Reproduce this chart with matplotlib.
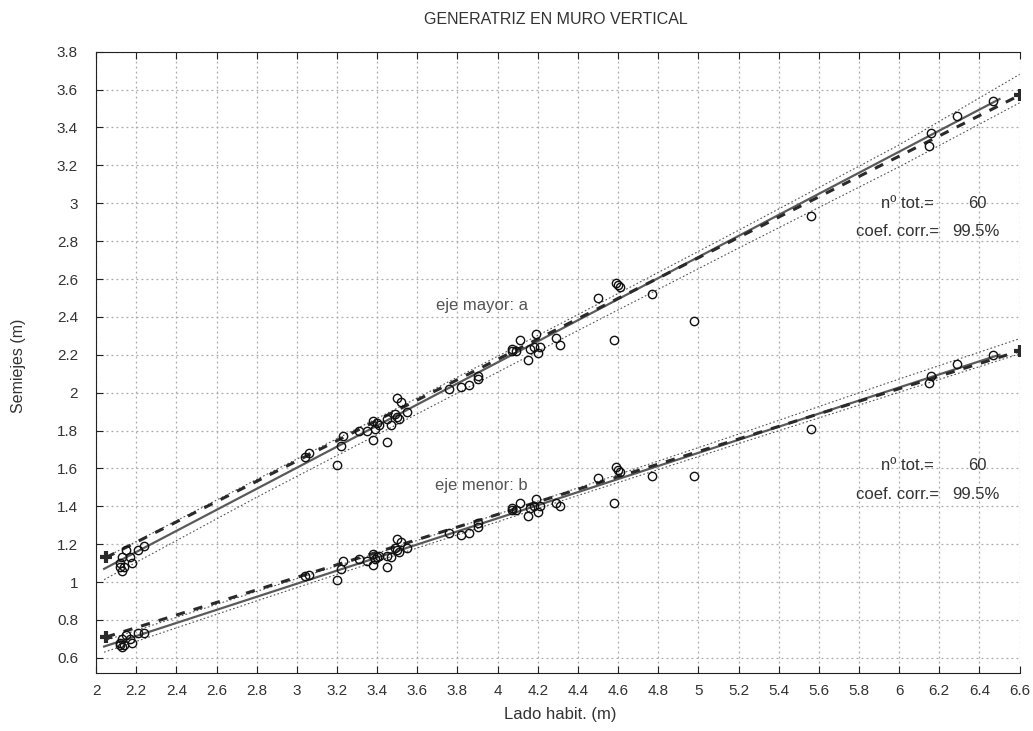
import matplotlib
matplotlib.use('Agg')
import matplotlib.pyplot as plt

# habitation side length (m) and the two semi-axes of the generatrix (m)
lado = [2.12, 2.13, 2.12, 2.14, 2.15, 2.13, 2.17, 2.18, 2.21, 2.24,
        3.04, 3.06, 3.20, 3.22, 3.23, 3.31, 3.38, 3.39, 3.41, 3.38,
        3.45, 3.45, 3.47, 3.50, 3.52, 3.50, 3.51, 3.55, 3.49, 3.40,
        3.76, 3.82, 3.86, 3.90, 3.90, 4.07, 4.07, 4.11, 4.15, 4.16,
        4.18, 4.19, 4.20, 4.21, 4.29, 4.31, 4.50, 4.58, 4.59, 4.60,
        4.61, 4.77, 4.98, 5.56, 6.15, 6.16, 6.29, 6.47, 4.09, 3.35]
eje_a = [1.08, 1.06, 1.10, 1.08, 1.17, 1.13, 1.13, 1.10, 1.17, 1.19,
         1.66, 1.68, 1.62, 1.72, 1.77, 1.80, 1.85, 1.81, 1.83, 1.75,
         1.74, 1.86, 1.83, 1.97, 1.95, 1.87, 1.86, 1.90, 1.89, 1.84,
         2.02, 2.03, 2.04, 2.09, 2.07, 2.23, 2.22, 2.28, 2.17, 2.23,
         2.24, 2.31, 2.21, 2.24, 2.29, 2.25, 2.50, 2.28, 2.58, 2.57,
         2.56, 2.52, 2.38, 2.93, 3.30, 3.37, 3.46, 3.54, 2.22, 1.80]
eje_b = [0.67, 0.66, 0.68, 0.67, 0.72, 0.70, 0.70, 0.68, 0.73, 0.73,
         1.03, 1.04, 1.01, 1.07, 1.11, 1.12, 1.15, 1.12, 1.14, 1.09,
         1.08, 1.14, 1.13, 1.23, 1.21, 1.17, 1.16, 1.18, 1.18, 1.13,
         1.26, 1.25, 1.26, 1.31, 1.29, 1.39, 1.38, 1.42, 1.35, 1.39,
         1.40, 1.44, 1.37, 1.40, 1.42, 1.40, 1.55, 1.42, 1.61, 1.59,
         1.58, 1.56, 1.56, 1.81, 2.05, 2.09, 2.15, 2.20, 1.38, 1.11]

# regression (solid) and model (dashed) lines
fit_x = [2.04, 6.50]
fit_a = [1.07, 3.55]
fit_b = [0.66, 2.20]
mod_x = [2.05, 6.60]
mod_a = [1.13, 3.57]
mod_b = [0.71, 2.22]

# confidence band
band_x = [2.04, 2.8, 3.6, 4.4, 5.2, 6.0, 6.6]
band_a_lo = [1.013, 1.448, 1.888, 2.328, 2.763, 3.192, 3.530]
band_a_hi = [1.127, 1.542, 1.972, 2.412, 2.857, 3.308, 3.680]
band_b_lo = [0.630, 0.901, 1.180, 1.457, 1.731, 2.002, 2.205]
band_b_hi = [0.690, 0.951, 1.220, 1.497, 1.781, 2.072, 2.285]

ticks_x = [2 + 0.2 * i for i in range(24)]
ticks_y = [0.6 + 0.2 * i for i in range(17)]

plt.rcParams['font.family'] = ['Liberation Sans', 'DejaVu Sans']
txt = '#333333'

fig = plt.figure(figsize=(10.33, 7.31), dpi=100)
ax = fig.add_axes([0.093, 0.0793, 0.894, 0.850])

for lo, hi in [(band_a_lo, band_a_hi), (band_b_lo, band_b_hi)]:
    ax.plot(band_x, lo, color='#555555', lw=0.8, ls=(0, (1.5, 2)))
    ax.plot(band_x, hi, color='#555555', lw=0.8, ls=(0, (1.5, 2)))

ax.plot(fit_x, fit_a, color='#5a5a5a', lw=1.6)
ax.plot(fit_x, fit_b, color='#5a5a5a', lw=1.6)
ax.plot(mod_x, mod_a, color='#2a2a2a', lw=2.2, ls=(0, (3, 3)))
ax.plot(mod_x, mod_b, color='#2a2a2a', lw=2.2, ls=(0, (3, 3)))
ax.plot(mod_x, mod_a, ls='none', marker='+', ms=9, mew=3, color='#2a2a2a')
ax.plot(mod_x, mod_b, ls='none', marker='+', ms=9, mew=3, color='#2a2a2a')

ax.plot(lado, eje_a, ls='none', marker='o', ms=6, mfc='none', mec='#111111', mew=1.0)
ax.plot(lado, eje_b, ls='none', marker='o', ms=6, mfc='none', mec='#111111', mew=1.0)

ax.set_xlim(2, 6.6)
ax.set_ylim(0.52, 3.8)
ax.set_xticks(ticks_x)
ax.set_xticklabels([f'{v:g}' for v in [round(t, 1) for t in ticks_x]])
ax.set_yticks(ticks_y)
ax.set_yticklabels([f'{v:g}' for v in [round(t, 1) for t in ticks_y]])
ax.tick_params(direction='in', length=5, colors='#222222', labelcolor=txt,
               labelsize=11, top=True)
ax.tick_params(axis='x', pad=8)
ax.tick_params(axis='y', pad=13)
ax.grid(True, color='#aaaaaa', ls=(0, (1.5, 2.5)), lw=0.9)
ax.spines['right'].set_visible(False)
for s in ['left', 'bottom', 'top']:
    ax.spines[s].set_color('#222222')

fs = 12
ax.text(3.92, 2.46, 'eje mayor: a', fontsize=fs, color='#555555', ha='center', va='center')
ax.text(3.92, 1.51, 'eje menor: b', fontsize=fs, color='#555555', ha='center', va='center')
for ytop, ybot in [(3.00, 2.851), (1.614, 1.461)]:
    ax.text(6.04, ytop, 'nº tot.=', fontsize=fs, color=txt, ha='center', va='center')
    ax.text(6.388, ytop, '60', fontsize=fs, color=txt, ha='center', va='center')
    ax.text(5.99, ybot, 'coef. corr.=', fontsize=fs, color=txt, ha='center', va='center')
    ax.text(6.385, ybot, '99.5%', fontsize=fs, color=txt, ha='center', va='center')

fig.text(0.538, 0.974, 'GENERATRIZ EN MURO VERTICAL', ha='center', va='center', fontsize=11.5, color=txt)
fig.text(0.542, 0.023, 'Lado habit. (m)', ha='center', va='center', fontsize=12, color=txt)
fig.text(0.018, 0.50, 'Semiejes (m)', ha='center', va='center', rotation=90, fontsize=11.5, color=txt)

fig.savefig('out.png', dpi=100)
